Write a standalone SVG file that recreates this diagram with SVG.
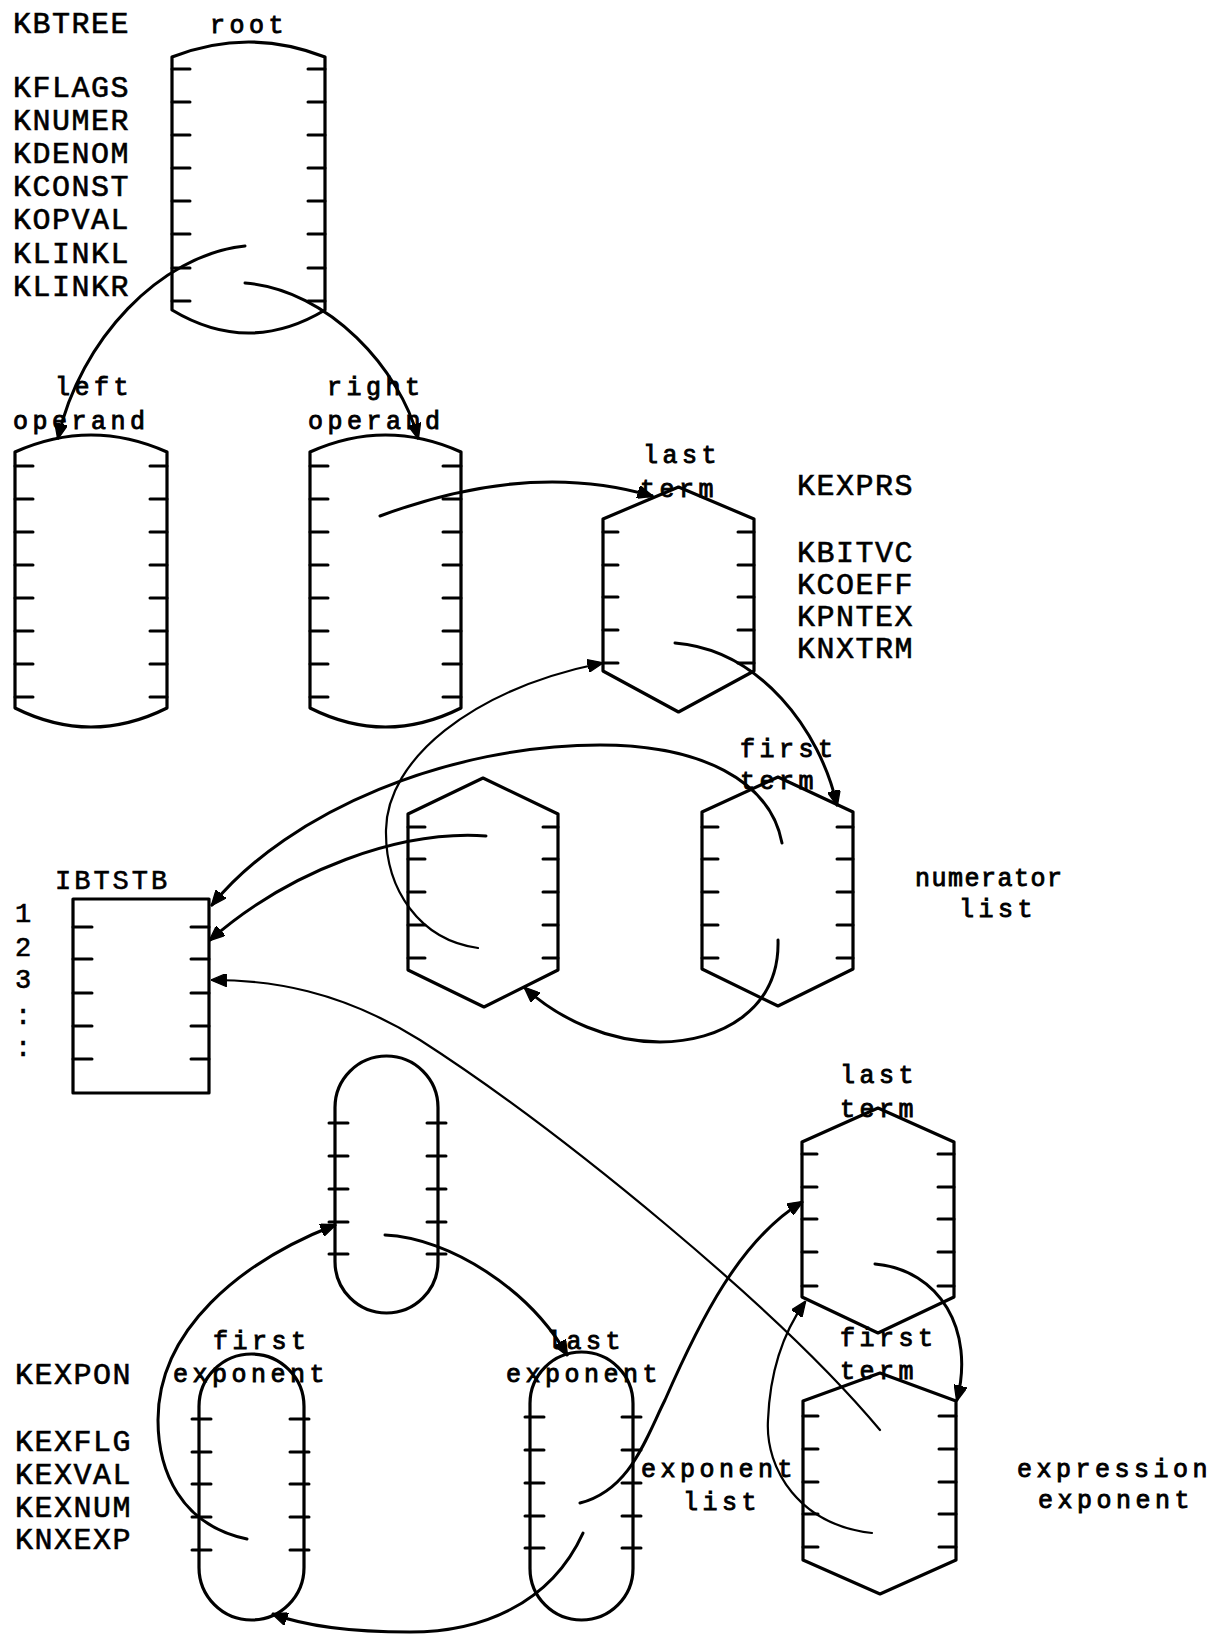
<svg xmlns="http://www.w3.org/2000/svg" width="1226" height="1635" viewBox="0 0 1226 1635">
<style>
.shape{fill:none;stroke:#000;stroke-width:3.2;stroke-linejoin:round;stroke-linecap:round}
.tick{fill:none;stroke:#000;stroke-width:3;stroke-linecap:round}
.con{fill:none;stroke:#000;stroke-width:3;stroke-linecap:round}
.thin{fill:none;stroke:#000;stroke-width:2.2;stroke-linecap:round}
.cap{font-family:"Liberation Mono","DejaVu Sans Mono",monospace;font-size:30px;letter-spacing:1.5px;fill:#000;stroke:#000;stroke-width:0.6}
.sm{font-family:"Liberation Mono","DejaVu Sans Mono",monospace;font-size:27px;letter-spacing:3px;fill:#000;stroke:#000;stroke-width:0.6}
.low{font-family:"Liberation Mono","DejaVu Sans Mono",monospace;font-size:25px;letter-spacing:4.5px;fill:#000;stroke:#000;stroke-width:0.9}
</style>
<defs>
<marker id="ah" viewBox="0 0 12 10" refX="11" refY="5" markerWidth="16" markerHeight="13" markerUnits="userSpaceOnUse" orient="auto">
<path d="M0,0 L12,5 L0,10 z" fill="#000" stroke="#000" stroke-width="1"/>
</marker>
</defs>
<rect width="1226" height="1635" fill="#fff"/>

<g id="labels">
<text class="cap" x="13" y="33">KBTREE</text>
<text class="cap" x="13" y="97">KFLAGS</text>
<text class="cap" x="13" y="130">KNUMER</text>
<text class="cap" x="13" y="163">KDENOM</text>
<text class="cap" x="13" y="196">KCONST</text>
<text class="cap" x="13" y="229">KOPVAL</text>
<text class="cap" x="13" y="263">KLINKL</text>
<text class="cap" x="13" y="296">KLINKR</text>
<text class="low" x="210" y="33">root</text>
<text class="low" x="55" y="395">left</text>
<text class="low" x="13" y="429">operand</text>
<text class="low" x="327" y="395">right</text>
<text class="low" x="308" y="429">operand</text>
<text class="low" x="643" y="463">last</text>
<text class="low" x="640" y="497">term</text>
<text class="cap" x="797" y="495">KEXPRS</text>
<text class="cap" x="797" y="562">KBITVC</text>
<text class="cap" x="797" y="594">KCOEFF</text>
<text class="cap" x="797" y="626">KPNTEX</text>
<text class="cap" x="797" y="658">KNXTRM</text>
<text class="low" x="740" y="757">first</text>
<text class="low" x="740" y="789">term</text>
<text class="low" x="915" y="886" style="letter-spacing:1.5px">numerator</text>
<text class="low" x="959" y="917">list</text>
<text class="sm" x="55" y="889">IBTSTB</text>
<text class="sm" x="15" y="922">1</text>
<text class="sm" x="15" y="956">2</text>
<text class="sm" x="15" y="988">3</text>
<text class="sm" x="15" y="1024">:</text>
<text class="sm" x="15" y="1056">:</text>
<text class="low" x="840" y="1083">last</text>
<text class="low" x="840" y="1117">term</text>
<text class="low" x="840" y="1346">first</text>
<text class="low" x="840" y="1379">term</text>
<text class="low" x="1017" y="1477">expression</text>
<text class="low" x="1038" y="1508">exponent</text>
<text class="low" x="641" y="1477">exponent</text>
<text class="low" x="683" y="1510">list</text>
<text class="low" x="213" y="1349">first</text>
<text class="low" x="173" y="1382">exponent</text>
<text class="low" x="547" y="1349">last</text>
<text class="low" x="506" y="1382">exponent</text>
<text class="cap" x="15" y="1384">KEXPON</text>
<text class="cap" x="15" y="1451">KEXFLG</text>
<text class="cap" x="15" y="1484">KEXVAL</text>
<text class="cap" x="15" y="1517">KEXNUM</text>
<text class="cap" x="15" y="1549">KNXEXP</text>
</g>

<g id="root">
<path class="shape" d="M172,57 Q248.5,27 325,57 L325,310 Q248.5,356 172,310 Z"/>
<path class="tick" d="M172,69h18M172,102h18M172,135h18M172,168h18M172,201h18M172,234h18M172,268h18M172,301h18M308,69h17M308,102h17M308,135h17M308,168h17M308,201h17M308,234h17M308,268h17M308,301h17"/>
</g>

<g id="left-operand">
<path class="shape" d="M15,452 Q91,418 167,452 L167,708 Q91,746 15,708 Z"/>
<path class="tick" d="M15,466h18M15,499h18M15,532h18M15,565h18M15,598h18M15,631h18M15,664h18M15,697h18M150,466h17M150,499h17M150,532h17M150,565h17M150,598h17M150,631h17M150,664h17M150,697h17"/>
</g>

<g id="right-operand">
<path class="shape" d="M310,452 Q385.5,418 461,452 L461,708 Q385.5,746 310,708 Z"/>
<path class="tick" d="M310,466h18M310,499h18M310,532h18M310,565h18M310,598h18M310,631h18M310,664h18M310,697h18M443,466h18M443,499h18M443,532h18M443,565h18M443,598h18M443,631h18M443,664h18M443,697h18"/>
</g>

<g id="last-term">
<path class="shape" d="M603,519 L678.5,487 L754,519 L754,671 L678.5,712 L603,671 Z"/>
<path class="tick" d="M603,532h15M603,565h15M603,597h15M603,630h15M603,663h15M738,532h16M738,565h16M738,597h16M738,630h16M738,663h16"/>
</g>

<g id="numerator-term-2">
<path class="shape" d="M408,814 L483,778 L558,814 L558,970 L484,1007 L408,970 Z"/>
<path class="tick" d="M408,827h17M408,859h17M408,892h17M408,925h17M408,958h17M543,827h15M543,859h15M543,892h15M543,925h15M543,958h15"/>
</g>

<g id="first-term">
<path class="shape" d="M702,812 L778,777 L853,812 L853,969 L778,1006 L702,969 Z"/>
<path class="tick" d="M702,827h16M702,859h16M702,892h16M702,925h16M702,958h16M837,827h16M837,859h16M837,892h16M837,925h16M837,958h16"/>
</g>

<g id="ibtstb">
<rect class="shape" x="73" y="899" width="136" height="194"/>
<path class="tick" d="M73,927h19M73,959h19M73,993h19M73,1026h19M73,1059h19M191,927h18M191,959h18M191,993h18M191,1026h18M191,1059h18"/>
</g>

<g id="exponent-head">
<rect class="shape" x="335" y="1056" width="103" height="257" rx="51.5" ry="51.5"/>
<path class="tick" d="M329,1123h19M329,1156h19M329,1189h19M329,1222h19M329,1254h19M427,1123h19M427,1156h19M427,1189h19M427,1222h19M427,1254h19"/>
</g>

<g id="first-exponent">
<rect class="shape" x="199" y="1354" width="105" height="266" rx="52.5" ry="52.5"/>
<path class="tick" d="M192,1419h19M192,1452h19M192,1484h19M192,1517h19M192,1550h19M290,1419h19M290,1452h19M290,1484h19M290,1517h19M290,1550h19"/>
</g>

<g id="last-exponent">
<rect class="shape" x="530" y="1352" width="103" height="268" rx="51.5" ry="51.5"/>
<path class="tick" d="M525,1417h19M525,1450h19M525,1483h19M525,1516h19M525,1548h19M622,1417h19M622,1450h19M622,1483h19M622,1516h19M622,1548h19"/>
</g>

<g id="exp-last-term">
<path class="shape" d="M802,1142 L878,1108 L954,1142 L954,1297 L878,1333 L802,1297 Z"/>
<path class="tick" d="M802,1154h15M802,1187h15M802,1219h15M802,1252h15M802,1286h15M938,1154h16M938,1187h16M938,1219h16M938,1252h16M938,1286h16"/>
</g>

<g id="exp-first-term">
<path class="shape" d="M803,1401 L880,1373 L956,1401 L956,1560 L880,1594 L803,1560 Z"/>
<path class="tick" d="M803,1416h15M803,1449h15M803,1482h15M803,1514h15M803,1547h15M939,1416h17M939,1449h17M939,1482h17M939,1514h17M939,1547h17"/>
</g>

<g id="connectors">
<path class="con" marker-end="url(#ah)" d="M245,246 C160,255 80,340 58,438"/>
<path class="con" marker-end="url(#ah)" d="M245,283 C330,290 400,370 418,438"/>
<path class="con" marker-end="url(#ah)" d="M380,516 Q530,460 652,496"/>
<path class="con" marker-end="url(#ah)" d="M675,643 C760,650 820,730 837,805"/>
<path class="thin" marker-end="url(#ah)" d="M478,948 C420,940 385,890 386,830 C387,760 470,690 602,663"/>
<path class="con" marker-end="url(#ah)" d="M782,843 C770,780 700,745 600,745 C450,745 290,810 212,905"/>
<path class="con" marker-end="url(#ah)" d="M486,836 C400,830 290,870 210,940"/>
<path class="con" marker-end="url(#ah)" d="M778,940 C780,1010 720,1042 660,1042 C610,1042 560,1020 525,988"/>
<path class="thin" marker-end="url(#ah)" d="M880,1430 C780,1310 560,1130 420,1040 C340,990 270,980 212,980"/>
<path class="con" marker-end="url(#ah)" d="M247,1539 C180,1525 158,1470 158,1420 C158,1330 240,1262 335,1225"/>
<path class="con" marker-end="url(#ah)" d="M385,1235 C450,1238 530,1290 567,1355"/>
<path class="con" marker-end="url(#ah)" d="M580,1503 C630,1490 645,1440 665,1400 C700,1320 740,1240 802,1202"/>
<path class="con" marker-end="url(#ah)" d="M583,1533 C550,1605 480,1632 410,1632 C360,1632 310,1628 273,1614"/>
<path class="con" marker-end="url(#ah)" d="M875,1264 C940,1270 975,1330 957,1400"/>
<path class="thin" marker-end="url(#ah)" d="M872,1533 C800,1525 765,1470 768,1420 C770,1370 785,1330 805,1302"/>
</g>
</svg>
